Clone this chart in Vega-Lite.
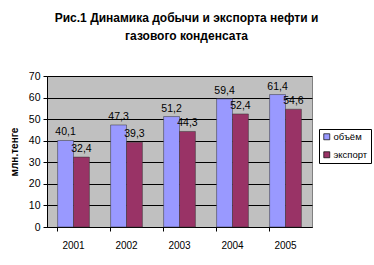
{
  "$schema": "https://vega.github.io/schema/vega-lite/v6.json",
  "width": 265,
  "height": 151,
  "autosize": {"type": "none"},
  "padding": {"left": 47, "top": 76, "right": 62, "bottom": 38},
  "background": "white",
  "config": {
    "locale": {"number": {"decimal": ",", "thousands": " ", "grouping": [3], "currency": ["", ""]}},
    "font": "Liberation Sans",
    "view": {"fill": "#C0C0C0", "stroke": "#808080", "strokeWidth": 1}
  },
  "title": {
    "text": ["Рис.1 Динамика добычи и экспорта нефти и", "газового конденсата"],
    "font": "Liberation Sans",
    "fontSize": 12,
    "fontWeight": "bold",
    "color": "black",
    "anchor": "middle",
    "dx": 7,
    "offset": 28,
    "lineHeight": 18
  },
  "data": {
    "values": [
      {"year": "2001", "series": "объём", "value": 40.1},
      {"year": "2001", "series": "экспорт", "value": 32.4},
      {"year": "2002", "series": "объём", "value": 47.3},
      {"year": "2002", "series": "экспорт", "value": 39.3},
      {"year": "2003", "series": "объём", "value": 51.2},
      {"year": "2003", "series": "экспорт", "value": 44.3},
      {"year": "2004", "series": "объём", "value": 59.4},
      {"year": "2004", "series": "экспорт", "value": 52.4},
      {"year": "2005", "series": "объём", "value": 61.4},
      {"year": "2005", "series": "экспорт", "value": 54.6}
    ]
  },
  "encoding": {
    "x": {
      "field": "year",
      "type": "nominal",
      "scale": {"paddingInner": 0.4, "paddingOuter": 0.2},
      "axis": {
        "title": null,
        "labelAngle": 0,
        "labelFont": "Liberation Sans",
        "labelFontSize": 10,
        "labelColor": "black",
        "labelPadding": 9,
        "domainColor": "black",
        "tickColor": "black",
        "tickSize": 4,
        "bandPosition": 0
      }
    },
    "xOffset": {"field": "series", "type": "nominal", "sort": ["объём", "экспорт"]},
    "y": {
      "field": "value",
      "type": "quantitative",
      "scale": {"domain": [0, 70]},
      "axis": {
        "title": "млн.тенге",
        "titleFont": "Liberation Sans",
        "titleFontSize": 10,
        "titleFontWeight": "bold",
        "titleColor": "black",
        "titlePadding": 9,
        "values": [0, 10, 20, 30, 40, 50, 60, 70],
        "labelFont": "Liberation Sans",
        "labelFontSize": 10.5,
        "labelColor": "black",
        "labelPadding": 3,
        "grid": true,
        "gridColor": "black",
        "gridOpacity": 1,
        "domainColor": "black",
        "tickColor": "black",
        "tickSize": 4
      }
    }
  },
  "layer": [
    {
      "mark": {"type": "bar", "stroke": "#333333", "strokeWidth": 0.5},
      "encoding": {
        "color": {
          "field": "series",
          "type": "nominal",
          "sort": ["объём", "экспорт"],
          "scale": {"domain": ["объём", "экспорт"], "range": ["#9999FF", "#993366"]},
          "legend": {
            "title": null,
            "orient": "none",
            "legendX": 272,
            "legendY": 53,
            "direction": "vertical",
            "symbolType": "square",
            "symbolSize": 36,
            "symbolStrokeColor": "black",
            "symbolStrokeWidth": 0.7,
            "labelFont": "Liberation Sans",
            "labelFontSize": 9.5,
            "labelColor": "black",
            "labelOffset": 2,
            "rowPadding": 7,
            "strokeColor": "black",
            "fillColor": "white",
            "padding": 3
          }
        }
      }
    },
    {
      "mark": {"type": "text", "baseline": "bottom", "dy": -3, "fontSize": 10.5, "font": "Liberation Sans", "color": "black"},
      "encoding": {
        "text": {"field": "value", "type": "quantitative", "format": ".1f"}
      }
    }
  ]
}
